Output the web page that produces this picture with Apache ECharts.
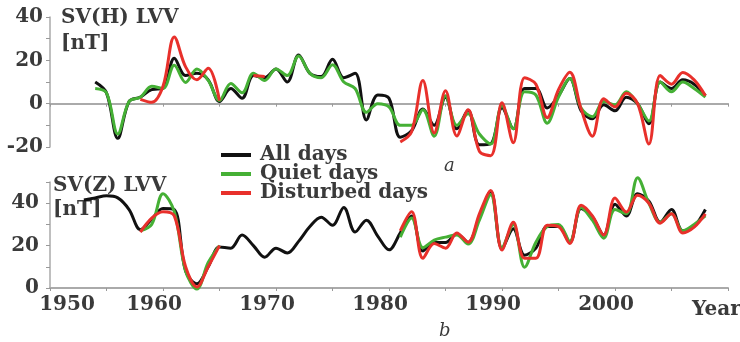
<!DOCTYPE html>
<html>
<head>
<meta charset="utf-8">
<script src="https://cdn.jsdelivr.net/npm/echarts@6/dist/echarts.min.js"></script>
<style>html,body{margin:0;padding:0;background:#fff}#c{width:740px;height:342px}</style>
</head>
<body>
<div id="c"></div>
<script>
const years = [];
for (let y = 1953; y <= 2008; y++) years.push(y);
const N = null;
// Panel a: SV(H) LVV [nT]
const hAll = [N,10,5,-16,1,3,6.5,7,21,13,14,11,1,7,2.5,13,12,16,10,22.5,14,12.5,20.5,12,14,-7.5,4,2.5,-15.5,-12.5,-2.5,-10,3,-11.6,-3,-19,-18.5,-1.9,-11.6,7,7,-2,3.7,11.6,-3.3,-7,-0.5,-3.3,3,0,-9.3,10,7,11,9,3.7];
const hQuiet = [N,7,5,-14,1,3,8,7,17.7,9.8,16,10.7,1.5,9.3,5,14,10.7,16,13,22,14,12,18,10,7,-4,0,-1.5,-10,-10,-2.8,-15,3.7,-10,-4.7,-14,-18.6,-1,-11.6,5.5,4,-9,3,11.6,-2,-6,1,-0.5,5.5,0,-8,10,5.5,10,7,3];
const hDist = [N,N,N,N,N,2,0.6,8,30.8,17,11,16.3,1.4,N,N,13,12.5,N,N,N,N,N,N,N,N,N,N,N,-17.7,-13,10.7,-13.5,6,-14.9,-2.8,-22,-24,0.4,-18,12,9,-6.5,6.5,14.5,-2.5,-15,2.3,-1.5,4.8,0,-18.6,13,9,14.4,11,3.7];
// Panel b: SV(Z) LVV [nT]
const zAll = [41.5,42.5,43.5,42.5,37,27.5,32.5,37.5,37,8,2,10,19.3,18.8,25,20,14.5,18.8,16.5,22,29,33.4,29.6,38,26.4,32,24.5,18,26,34,17.5,21.5,21.5,25.5,21.5,33.5,45.5,18.5,28,15.5,18.8,29,29,21.5,37.5,33.5,25,39.5,34,44.5,41,31,37,27,29,37];
const zQuiet = [N,N,N,N,N,27,30,44.5,36,8,-0.5,12,20,N,N,N,N,N,N,N,N,N,N,N,N,N,N,N,24,33,19,22.6,24,25,20.7,32,44,19,30,9.8,21.6,29,30,22,38,32,23.5,37,35,52,40,31,35,27,30,34];
const zDist = [N,N,N,N,N,26.4,33,36,34,10,0.5,10,20,N,N,N,N,N,N,N,N,N,N,N,N,N,N,N,27,36,14,21,18.8,26,21.6,35,46,17.9,31,14,14,29.6,29,21,39,34,25,42.4,35.8,43.8,40,30.6,35,26,28.7,35];
const seriesNames = ['All days','Quiet days','Disturbed days'];
const colors = ['#111111','#45b035','#e8302b'];

const pairs = arr => years.map((y,i) => [y, arr[i]]);
const font = '"DejaVu Serif", serif';
const txt = '#3a3a3a';
const FS = 20;

function mk(name, data, idx, color){
  return {name, type:'line', xAxisIndex:idx, yAxisIndex:idx, data:pairs(data),
    smooth:0.35, showSymbol:false, connectNulls:false, clip:false,
    lineStyle:{color, width:3}, itemStyle:{color}};
}
const xCommon = {type:'value', min:1950, max:2010, interval:5,
  axisLine:{lineStyle:{color:'#aaaaaa', width:2}},
  axisTick:{length:3, lineStyle:{color:'#999', width:1}},
  splitLine:{show:false}};
const yCommon = {type:'value', interval:10,
  axisLine:{show:true, onZero:false, lineStyle:{color:'#aaaaaa', width:1.5}},
  axisTick:{show:true, length:4, lineStyle:{color:'#999'}},
  splitLine:{show:false},
  axisLabel:{fontFamily:font, fontWeight:'bold', fontSize:FS, color:txt, margin:7,
    formatter: v => (v % 20 === 0 ? String(v) : '')}};

const chart = echarts.init(document.getElementById('c'), null, {renderer:'canvas'});
chart.setOption({
  animation:false,
  grid:[
    {left:50, width:678, top:17, height:130},
    {left:50, width:678, top:182, height:106}
  ],
  xAxis:[
    Object.assign({}, xCommon, {gridIndex:0, axisLabel:{show:false}, axisLine:{onZero:true, lineStyle:{color:'#aaaaaa', width:2}}}),
    Object.assign({}, xCommon, {gridIndex:1, axisLabel:{show:true, interval:0,
      fontFamily:font, fontWeight:'bold', fontSize:FS, color:txt, margin:7,
      formatter: v => (v % 10 === 0 && v <= 2000) ? (v === 1950 ? '{f|1950}' : '{o|' + v + '}') : '',
      rich:{f:{fontFamily:font, fontWeight:'bold', fontSize:FS, color:txt, padding:[0,0,0,34]},
            o:{fontFamily:font, fontWeight:'bold', fontSize:FS, color:txt, padding:[0,18,0,0]}}}})
  ],
  yAxis:[
    Object.assign({}, yCommon, {gridIndex:0, min:-20, max:40}),
    Object.assign({}, yCommon, {gridIndex:1, min:0, max:50, axisLabel:Object.assign({}, yCommon.axisLabel, {margin:11})})
  ],
  legend:{orient:'vertical', left:216, top:140, itemWidth:30, itemHeight:4, itemGap:-1,
    icon:'rect', data:seriesNames,
    textStyle:{fontFamily:font, fontWeight:'bold', fontSize:FS, color:txt, padding:[0,0,0,4]}},
  series:[
    mk(seriesNames[0], hAll, 0, colors[0]),
    mk(seriesNames[1], hQuiet, 0, colors[1]),
    mk(seriesNames[2], hDist, 0, colors[2]),
    mk(seriesNames[0], zAll, 1, colors[0]),
    mk(seriesNames[1], zQuiet, 1, colors[1]),
    mk(seriesNames[2], zDist, 1, colors[2])
  ],
  graphic:[
    {type:'text', left:61, top:8, style:{text:'SV(H) LVV', font:'bold ' + FS + 'px ' + font, fill:txt}},
    {type:'text', left:61, top:34, style:{text:'[nT]', font:'bold ' + FS + 'px ' + font, fill:txt}},
    {type:'text', left:53, top:176, style:{text:'SV(Z) LVV', font:'bold ' + FS + 'px ' + font, fill:txt}},
    {type:'text', left:53, top:200, style:{text:'[nT]', font:'bold ' + FS + 'px ' + font, fill:txt}},
    {type:'text', left:444, top:157, style:{text:'a', font:'italic 18px ' + font, fill:txt}},
    {type:'text', left:439, top:322, style:{text:'b', font:'italic 18px ' + font, fill:txt}},
    {type:'text', left:692, top:300, style:{text:'Year', font:'bold ' + FS + 'px ' + font, fill:txt}}
  ]
});
</script>
</body>
</html>
